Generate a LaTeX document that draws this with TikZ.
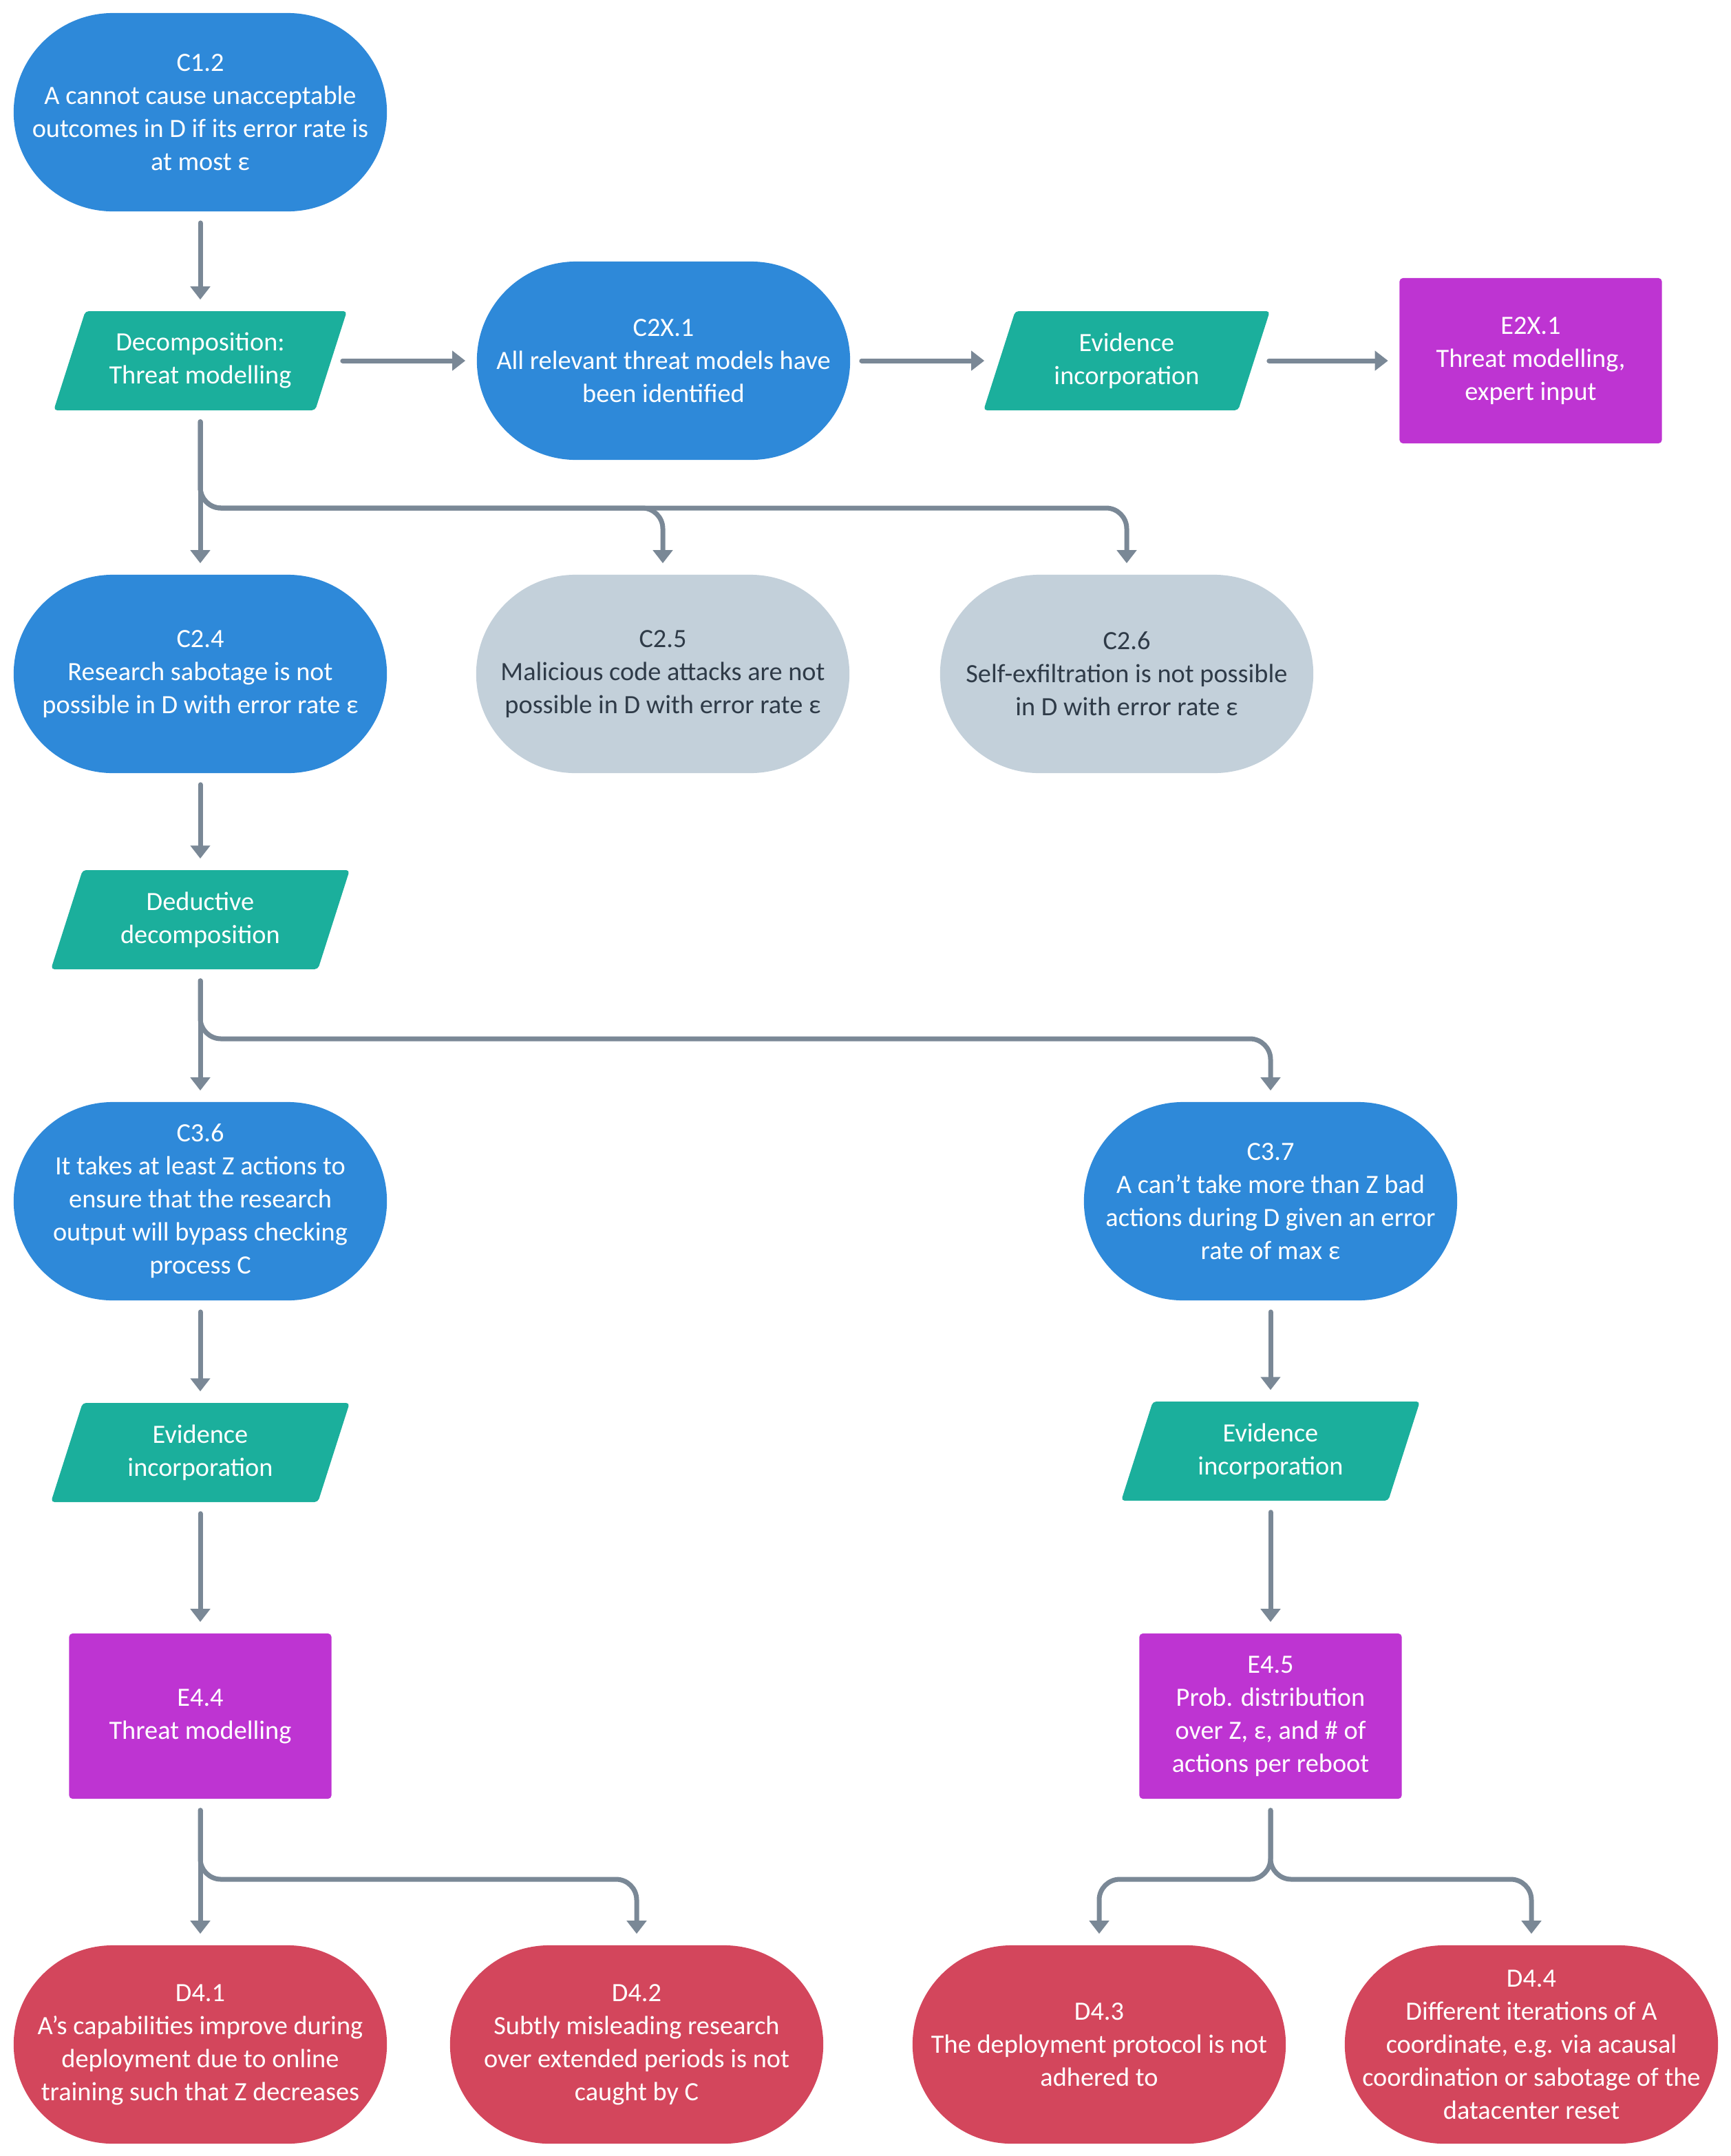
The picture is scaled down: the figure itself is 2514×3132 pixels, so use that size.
\documentclass[tikz,border=0pt]{standalone}
\usepackage{fontspec}
\setmainfont{Carlito}
\usetikzlibrary{arrows.meta,calc}
\definecolor{cblue}{HTML}{2E89D9}
\definecolor{cteal}{HTML}{1BAF9C}
\definecolor{cpurple}{HTML}{BE34D2}
\definecolor{cred}{HTML}{D3465C}
\definecolor{cgrey}{HTML}{C3D0DA}
\definecolor{cgtext}{HTML}{2F3B48}
\definecolor{cline}{HTML}{7A8896}
\newcommand\paranode[5]{%
  \fill[cteal, rounded corners=0.05cm] (#2-#4+23,#3-72) -- (#2+#4+23,#3-72) -- (#2+#4-23,#3+72) -- (#2-#4-23,#3+72) -- cycle;
  \node[paratext] (#1) at (#2,#3) {#5};}
\begin{document}
\begin{tikzpicture}[x=0.01cm,y=-0.01cm,
  base/.style={align=center, text=white, font=\fontsize{10.9}{13.66}\selectfont, inner sep=0pt},
  claim/.style={base, rectangle, rounded corners=1.44cm, minimum width=5.42cm, minimum height=2.88cm, fill=cblue},
  greyclaim/.style={claim, fill=cgrey, text=cgtext},
  defeat/.style={claim, fill=cred},
  evid/.style={base, rectangle, rounded corners=0.05cm, minimum width=3.81cm, minimum height=2.4cm, fill=cpurple},
  paratext/.style={base, minimum width=3.8cm, minimum height=1.44cm},
  conn/.style={draw=cline, line width=0.07cm, line cap=round, -{Triangle[width=0.28cm,length=0.19cm]}, shorten <=0.16cm, shorten >=0.16cm},
  branch/.style={conn, rounded corners=0.3cm}]
\useasboundingbox (0,0) rectangle (2514,3132);

\node[claim] (c12) at (291,163) {C1.2\\A cannot cause unacceptable\\outcomes in D if its error rate is\\at most ε};
\paranode{dec}{291}{524}{190}{Decomposition:\\Threat modelling}
\node[claim] (c2x) at (964,524) {C2X.1\\All relevant threat models have\\been identified};
\paranode{ev1}{1637}{524}{185}{Evidence\\incorporation}
\node[evid] (e2x) at (2224,524) {E2X.1\\Threat modelling,\\expert input};

\node[claim] (c24) at (291,979) {C2.4\\Research sabotage is not\\possible in D with error rate ε};
\node[greyclaim] (c25) at (963,979) {C2.5\\Malicious code attacks are not\\possible in D with error rate ε};
\node[greyclaim] (c26) at (1637,979) {C2.6\\Self-exfiltration is not possible\\in D with error rate ε};

\paranode{ded}{291}{1336}{194}{Deductive\\decomposition}

\node[claim] (c36) at (291,1745) {C3.6\\It takes at least Z actions to\\ensure that the research\\output will bypass checking\\process C};
\node[claim] (c37) at (1846,1745) {C3.7\\A can’t take more than Z bad\\actions during D given an error\\rate of max ε};

\paranode{ev2}{291}{2110}{194}{Evidence\\incorporation}
\paranode{ev3}{1846}{2108}{194}{Evidence\\incorporation}

\node[evid] (e44) at (291,2493) {E4.4\\Threat modelling};
\node[evid] (e45) at (1846,2493) {E4.5\\Prob. distribution\\over Z, ε, and \# of\\actions per reboot};

\node[defeat] (d41) at (291,2970) {D4.1\\A’s capabilities improve during\\deployment due to online\\training such that Z decreases};
\node[defeat] (d42) at (925,2970) {D4.2\\Subtly misleading research\\over extended periods is not\\caught by C};
\node[defeat] (d43) at (1597,2970) {D4.3\\The deployment protocol is not\\adhered to};
\node[defeat] (d44) at (2225,2970) {D4.4\\Different iterations of A\\coordinate, e.g. via acausal\\coordination or sabotage of the\\datacenter reset};

\coordinate (h1) at (0,738);
\coordinate (h2) at (0,1509);
\coordinate (h3) at (0,2730);

\draw[conn] (c12) -- (dec);
\draw[conn] (dec) -- (c2x);
\draw[conn] (c2x) -- (ev1);
\draw[conn] (ev1) -- (e2x);
\draw[conn] (dec) -- (c24);
\draw[branch] (dec.south) -- (dec.south |- h1) -| (c25.north);
\draw[branch] (dec.south) -- (dec.south |- h1) -| (c26.north);
\draw[conn] (c24) -- (ded);
\draw[conn] (ded) -- (c36);
\draw[branch] (ded.south) -- (ded.south |- h2) -| (c37.north);
\draw[conn] (c36) -- (ev2);
\draw[conn] (c37) -- (ev3);
\draw[conn] (ev2) -- (e44);
\draw[conn] (ev3) -- (e45);
\draw[conn] (e44) -- (d41);
\draw[branch] (e44.south) -- (e44.south |- h3) -| (d42.north);
\draw[branch] (e45.south) -- (e45.south |- h3) -| (d43.north);
\draw[branch] (e45.south) -- (e45.south |- h3) -| (d44.north);
\end{tikzpicture}
\end{document}
